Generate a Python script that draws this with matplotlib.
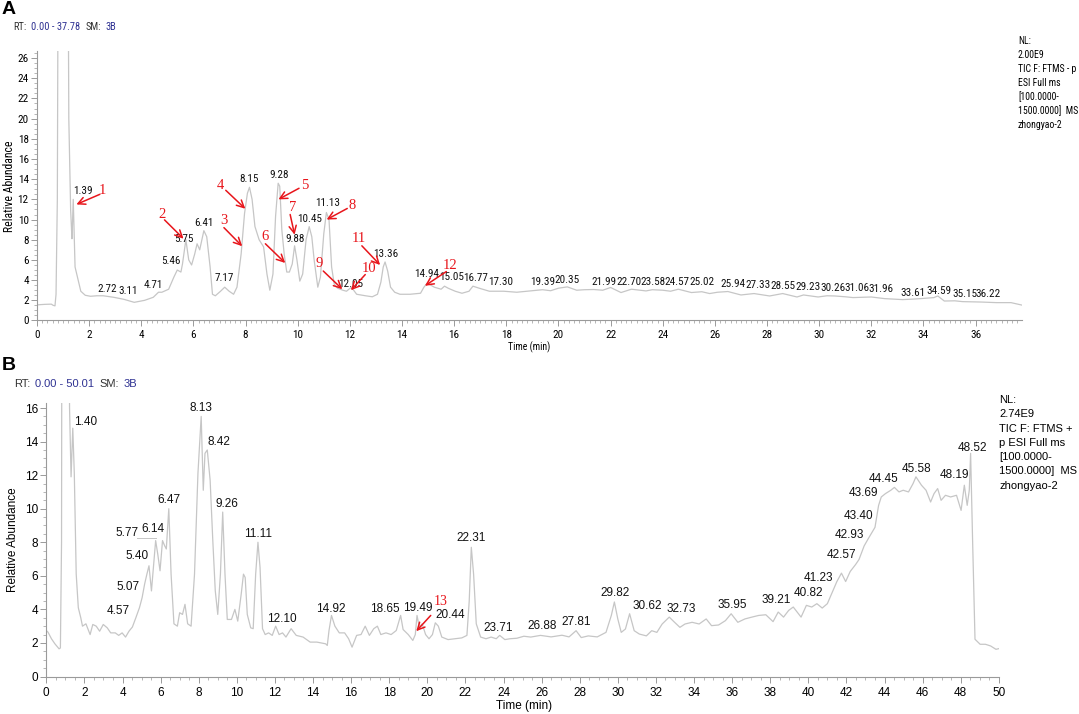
import matplotlib
matplotlib.use("Agg")
import matplotlib.pyplot as plt
from matplotlib import font_manager
from matplotlib.font_manager import FontProperties
from matplotlib.ticker import MultipleLocator

# ---- data ----
trace_a = [(0.0, 1.55), (0.3, 1.6), (0.55, 1.62), (0.62, 1.5), (0.69, 1.45), (0.73, 2.6),
           (0.78, 12.0), (0.84, 60), (0.95, 100), (1.1, 100), (1.17, 50), (1.22, 20),
           (1.29, 11.0), (1.34, 8.1), (1.36, 9.5), (1.39, 12.0), (1.42, 9.0), (1.46, 5.3),
           (1.55, 4.3), (1.68, 2.9), (1.85, 2.5), (2.05, 2.4), (2.3, 2.45), (2.54, 2.45),
           (2.94, 2.3), (3.33, 2.1), (3.73, 1.8), (4.13, 2.0), (4.46, 2.3), (4.66, 2.8),
           (4.79, 2.8), (5.05, 3.1), (5.25, 4.3), (5.38, 5.0), (5.52, 4.8), (5.58, 5.6),
           (5.71, 8.0), (5.82, 6.0), (5.93, 5.5), (6.05, 6.6), (6.14, 7.6), (6.24, 7.0),
           (6.4, 8.9), (6.51, 8.3), (6.64, 5.3), (6.73, 2.6), (6.84, 2.45), (7.04, 2.9),
           (7.2, 3.3), (7.37, 2.9), (7.54, 2.6), (7.67, 3.3), (7.83, 6.6), (7.96, 10.6),
           (8.07, 12.6), (8.15, 13.2), (8.25, 12.0), (8.36, 9.3), (8.52, 8.0), (8.69, 7.3),
           (8.82, 4.6), (8.93, 3.0), (9.05, 4.6), (9.15, 10.3), (9.25, 13.6), (9.31, 13.3),
           (9.39, 9.0), (9.48, 6.6), (9.58, 4.8), (9.68, 4.8), (9.79, 5.6), (9.88, 7.4),
           (9.97, 6.0), (10.08, 3.9), (10.19, 4.6), (10.32, 8.0), (10.44, 9.3), (10.54, 8.3),
           (10.63, 6.0), (10.77, 3.3), (10.87, 4.3), (11.0, 8.6), (11.1, 10.7), (11.2, 10.0),
           (11.3, 5.3), (11.4, 3.6), (11.53, 3.2), (11.73, 3.0), (11.87, 2.9), (12.06, 3.3),
           (12.26, 2.6), (12.6, 2.45), (12.86, 2.35), (13.06, 2.6), (13.19, 3.8), (13.28, 5.3),
           (13.35, 5.8), (13.45, 4.9), (13.56, 3.3), (13.72, 2.8), (13.92, 2.6), (14.31, 2.6),
           (14.71, 2.7), (14.84, 3.3), (14.97, 3.7), (15.24, 3.3), (15.5, 3.1), (15.63, 3.4),
           (15.77, 3.2), (16.04, 2.9), (16.3, 2.7), (16.57, 2.9), (16.72, 3.4), (16.96, 3.2),
           (17.35, 2.9), (17.9, 2.9), (18.4, 2.8), (18.8, 2.9), (19.2, 3.0), (19.39, 3.05),
           (19.7, 2.95), (20.0, 3.2), (20.34, 3.33), (20.7, 3.0), (21.0, 3.05), (21.35, 3.07),
           (21.7, 3.0), (22.0, 3.27), (22.4, 2.77), (22.8, 3.1), (23.36, 2.93), (23.6, 3.05),
           (24.0, 3.0), (24.3, 2.9), (24.6, 3.1), (25.1, 2.77), (25.5, 2.85), (25.8, 2.67),
           (26.1, 2.8), (26.5, 2.87), (27.0, 2.53), (27.5, 2.67), (28.1, 2.43), (28.6, 2.67),
           (29.15, 2.33), (29.4, 2.53), (29.96, 2.33), (30.3, 2.45), (30.6, 2.43), (31.0, 2.35),
           (31.3, 2.27), (32.0, 2.33), (32.5, 2.17), (33.2, 2.07), (33.6, 2.12), (33.9, 2.17),
           (34.4, 2.27), (34.55, 2.43), (34.8, 1.93), (35.2, 1.95), (35.5, 1.87), (36.2, 1.83),
           (36.8, 1.77), (37.36, 1.77), (37.77, 1.53)]

trace_b = [(0.0, 2.74), (0.09, 2.64), (0.27, 2.25), (0.45, 1.95), (0.67, 1.65), (0.74, 1.7),
           (0.8, 8.0), (0.86, 60), (0.95, 100), (1.1, 100), (1.16, 40), (1.22, 16),
           (1.3, 11.9), (1.39, 14.8), (1.47, 12.1), (1.57, 6.1), (1.68, 4.1), (1.81, 3.5),
           (1.9, 3.0), (2.08, 3.14), (2.3, 2.5), (2.44, 3.1), (2.62, 3.0), (2.8, 2.7),
           (2.99, 3.1), (3.2, 2.9), (3.38, 2.6), (3.62, 2.6), (3.8, 2.45), (3.98, 2.6),
           (4.16, 2.35), (4.34, 2.7), (4.52, 2.95), (4.7, 3.5), (4.89, 4.1), (5.03, 4.7),
           (5.16, 5.5), (5.28, 6.1), (5.39, 6.6), (5.52, 5.1), (5.65, 6.9), (5.74, 8.1),
           (5.85, 7.3), (5.97, 6.3), (6.1, 8.1), (6.21, 7.8), (6.3, 7.6), (6.43, 10.0),
           (6.55, 6.1), (6.7, 3.14), (6.88, 3.0), (7.0, 3.8), (7.15, 3.7), (7.28, 4.3),
           (7.42, 3.14), (7.6, 3.0), (7.78, 6.1), (7.96, 12.1), (8.13, 15.5), (8.24, 11.1),
           (8.33, 13.3), (8.45, 13.5), (8.6, 11.7), (8.74, 8.1), (8.87, 5.1), (9.0, 3.7),
           (9.14, 6.1), (9.26, 9.8), (9.38, 6.1), (9.5, 3.4), (9.72, 3.4), (9.9, 4.0),
           (10.05, 3.3), (10.23, 4.9), (10.35, 6.1), (10.44, 5.9), (10.55, 3.7), (10.73, 2.9),
           (10.86, 2.85), (10.99, 6.1), (11.11, 8.0), (11.22, 6.5), (11.35, 2.85), (11.49, 2.5),
           (11.67, 2.6), (11.86, 2.45), (12.04, 3.0), (12.22, 2.5), (12.4, 2.6), (12.58, 2.35),
           (12.85, 2.85), (13.12, 2.45), (13.48, 2.35), (13.85, 2.05), (14.2, 2.05), (14.66, 1.95),
           (14.75, 1.85), (14.84, 2.74), (14.97, 3.64), (15.15, 3.0), (15.38, 2.6), (15.66, 2.6),
           (15.87, 2.25), (16.05, 1.75), (16.29, 2.45), (16.52, 2.5), (16.74, 3.0), (16.96, 2.45),
           (17.19, 2.85), (17.38, 3.0), (17.56, 2.5), (17.83, 2.6), (18.1, 2.5), (18.37, 2.74),
           (18.6, 3.64), (18.73, 2.8), (19.0, 2.5), (19.24, 2.15), (19.37, 2.5), (19.46, 3.64),
           (19.58, 2.95), (19.73, 3.14), (19.91, 2.5), (20.09, 2.25), (20.27, 2.5), (20.42, 3.2),
           (20.58, 3.0), (20.76, 2.35), (21.09, 2.2), (21.45, 2.25), (21.81, 2.3), (22.08, 2.45),
           (22.2, 4.5), (22.31, 7.7), (22.43, 6.1), (22.57, 3.14), (22.8, 2.35), (23.08, 2.25),
           (23.35, 2.35), (23.62, 2.25), (23.8, 2.45), (24.07, 2.2), (24.34, 2.25), (24.7, 2.28),
           (25.07, 2.4), (25.43, 2.35), (25.94, 2.45), (26.5, 2.36), (27.07, 2.46), (27.44, 2.36),
           (27.81, 2.73), (28.08, 2.32), (28.45, 2.42), (28.92, 2.36), (29.38, 2.63), (29.66, 3.64),
           (29.82, 4.44), (30.0, 3.43), (30.18, 2.63), (30.4, 2.83), (30.62, 3.74), (30.86, 2.73),
           (31.13, 2.53), (31.5, 2.42), (31.78, 2.73), (32.05, 2.63), (32.33, 3.13), (32.7, 3.54),
           (32.98, 3.23), (33.26, 2.93), (33.53, 3.13), (33.9, 3.23), (34.27, 3.13), (34.64, 3.43),
           (34.92, 3.03), (35.29, 3.07), (35.65, 3.33), (35.95, 3.74), (36.3, 3.23), (36.67, 3.43),
           (37.04, 3.54), (37.4, 3.64), (37.77, 3.68), (38.15, 3.27), (38.42, 3.84), (38.7, 3.54),
           (38.97, 3.94), (39.21, 4.14), (39.62, 3.54), (39.9, 4.24), (40.18, 4.14), (40.45, 4.34),
           (40.73, 4.08), (41.0, 4.34), (41.23, 4.95), (41.5, 5.66), (41.74, 6.16), (41.96, 5.66),
           (42.2, 6.26), (42.48, 6.67), (42.66, 6.97), (42.93, 7.78), (43.13, 8.18), (43.4, 8.69),
           (43.5, 8.89), (43.69, 10.2), (43.83, 10.7), (44.05, 10.9), (44.33, 11.1), (44.52, 11.27),
           (44.76, 11.0), (44.98, 11.1), (45.26, 11.0), (45.5, 11.5), (45.65, 11.9), (45.94, 11.4),
           (46.18, 11.1), (46.42, 10.4), (46.6, 10.9), (46.79, 11.2), (46.97, 10.5), (47.2, 10.8),
           (47.47, 10.7), (47.78, 10.8), (48.02, 9.9), (48.19, 11.4), (48.34, 10.2), (48.45, 11.1),
           (48.52, 13.3), (48.62, 8.3), (48.75, 2.22), (49.02, 1.92), (49.3, 1.92), (49.57, 1.82),
           (49.85, 1.62), (50.0, 1.66)]

# peak labels: (text, x, y) where the label sits
labels_a = [("1.39", 1.75, 12.8), ("2.72", 2.71, 3.1), ("3.11", 3.5, 2.95), ("4.71", 4.48, 3.5),
            ("5.46", 5.12, 5.85), ("5.75", 5.62, 8.05), ("6.41", 6.4, 9.7), ("7.17", 7.17, 4.2),
            ("8.15", 8.15, 14.0), ("9.28", 9.29, 14.4), ("9.88", 9.88, 8.1), ("10.45", 10.45, 10.1),
            ("11.13", 11.14, 11.6), ("12.05", 12.04, 3.6), ("13.36", 13.36, 6.6), ("14.94", 14.93, 4.6),
            ("15.05", 15.9, 4.35), ("16.77", 16.83, 4.2), ("17.30", 17.78, 3.85), ("19.39", 19.39, 3.83),
            ("20.35", 20.34, 4.0), ("21.99", 21.75, 3.83), ("22.70", 22.69, 3.83), ("23.58", 23.63, 3.83),
            ("24.57", 24.55, 3.83), ("25.02", 25.52, 3.77), ("25.94", 26.7, 3.6), ("27.33", 27.67, 3.53),
            ("28.55", 28.61, 3.43), ("29.23", 29.56, 3.33), ("30.26", 30.52, 3.2), ("31.06", 31.44, 3.2),
            ("31.96", 32.38, 3.1), ("33.61", 33.59, 2.77), ("34.59", 34.6, 2.93), ("35.15", 35.59, 2.67),
            ("36.22", 36.49, 2.6)]

labels_b = [("1.40", 2.05, 15.17), ("4.57", 3.8, 3.9), ("5.07", 4.29, 5.33), ("5.40", 4.76, 7.16),
            ("5.77", 4.22, 8.55), ("6.14", 5.61, 8.8), ("6.47", 6.46, 10.5), ("8.13", 8.14, 16.0),
            ("8.42", 9.05, 14.0), ("9.26", 9.5, 10.3), ("11.11", 11.13, 8.47), ("12.10", 12.36, 3.44),
            ("14.92", 14.93, 4.04), ("18.65", 17.79, 4.04), ("19.49", 19.49, 4.1), ("20.44", 21.23, 3.64),
            ("22.31", 22.32, 8.27), ("23.71", 23.71, 2.9), ("26.88", 26.05, 2.99), ("27.81", 27.81, 3.23),
            ("29.82", 29.84, 4.95), ("30.62", 31.56, 4.2), ("32.73", 33.31, 4.04), ("35.95", 35.99, 4.24),
            ("39.21", 38.3, 4.55), ("40.82", 40.03, 5.0), ("41.23", 40.55, 5.86), ("42.57", 41.75, 7.23),
            ("42.93", 42.14, 8.44), ("43.40", 42.62, 9.54), ("43.69", 42.89, 10.95), ("44.45", 43.93, 11.78),
            ("45.58", 45.68, 12.38), ("48.19", 47.66, 11.98), ("48.52", 48.63, 13.64)]

# red compound markers: (number, text pos, arrow tail, arrow tip)
marks_a = [("1", (2.5, 12.9), (2.41, 12.5), (1.51, 11.5)),
           ("2", (4.79, 10.5), (4.89, 9.97), (5.62, 8.1)),
           ("3", (7.17, 9.9), (7.17, 9.2), (7.87, 7.36)),
           ("4", (7.04, 13.4), (7.24, 12.9), (7.99, 11.07)),
           ("5", (10.28, 13.4), (10.05, 13.1), (9.26, 12.0)),
           ("6", (8.73, 8.3), (8.76, 7.6), (9.52, 5.7)),
           ("7", (9.79, 11.2), (9.71, 10.5), (9.88, 8.5)),
           ("8", (12.09, 11.4), (11.9, 11.1), (11.11, 10.0)),
           ("9", (10.81, 5.6), (10.98, 4.9), (11.71, 3.1)),
           ("10", (12.72, 5.15), (12.59, 4.55), (12.04, 3.0)),
           ("11", (12.35, 8.1), (12.46, 7.4), (13.16, 5.5)),
           ("12", (15.83, 5.45), (15.7, 4.85), (14.88, 3.44))]
marks_b = [("13", (20.69, 4.47), (20.18, 3.64), (19.42, 2.7))]

info_a = ["NL:", "2.00E9", "TIC F: FTMS - p", "ESI Full ms", "[100.0000-", "1500.0000]  MS", "zhongyao-2"]
info_b = ["NL:", "2.74E9", "TIC F: FTMS +", "p ESI Full ms", "[100.0000-", "1500.0000]  MS", "zhongyao-2"]

# ---- fonts: panel A uses a narrow face if one is installed ----
entries = font_manager.fontManager.ttflist
narrow_file = None
for pref in ["Liberation Sans Narrow", "Roboto Condensed", "Open Sans Condensed", "DejaVu Sans"]:
    for f in entries:
        is_cond = ("Narrow" in f.name or "Condensed" in f.name or f.stretch in ("condensed", "semi-condensed"))
        if f.name == pref and is_cond and f.style == "normal" and f.weight in (400, "normal", "regular"):
            narrow_file = f.fname
            break
    if narrow_file:
        break


def nfont(size):
    if narrow_file:
        return FontProperties(fname=narrow_file, size=size)
    return FontProperties(family="Liberation Sans", size=size * 0.88)


def sfont(size):
    return FontProperties(family="Liberation Sans", size=size)


W, H = 1079, 714
fig = plt.figure(figsize=(W / 100, H / 100), dpi=100)


def px(x, y):
    return x / W, 1 - y / H


def make_axes(left, right, top, bottom):
    return fig.add_axes([left / W, 1 - bottom / H, (right - left) / W, (bottom - top) / H])


line_col = "#c6c6c6"
axis_col = "#9a9a9a"
blue = "#2e3192"
red = "#e8151b"


def style(ax, fp, xmax, ymax, xminor, yminor, pad_x):
    ax.set_xlim(0, xmax)
    ax.set_ylim(0, ymax)
    for s in ["top", "right"]:
        ax.spines[s].set_visible(False)
    for s in ["left", "bottom"]:
        ax.spines[s].set_color(axis_col)
        ax.spines[s].set_linewidth(0.8)
    ax.xaxis.set_major_locator(MultipleLocator(2))
    ax.xaxis.set_minor_locator(MultipleLocator(xminor))
    ax.yaxis.set_major_locator(MultipleLocator(2))
    ax.yaxis.set_minor_locator(MultipleLocator(yminor))
    ax.tick_params(which="major", length=4, color=axis_col, width=0.7)
    ax.tick_params(which="minor", length=2, color=axis_col, width=0.5)
    ax.tick_params(axis="x", pad=pad_x)
    ax.tick_params(axis="y", pad=2)
    for lab in ax.get_xticklabels() + ax.get_yticklabels():
        lab.set_fontproperties(fp)


def header(y, parts, fp, x0, gap):
    # draw coloured pieces one after another
    renderer = fig.canvas.get_renderer()
    x = x0
    for txt, col in parts:
        t = fig.text(*px(x, y), txt, ha="left", va="center", fontproperties=fp, color=col)
        x += t.get_window_extent(renderer).width + gap


def arrow(ax, tail, tip):
    ax.annotate("", xy=tip, xytext=tail,
                arrowprops=dict(arrowstyle="->", color=red, lw=1.1, shrinkA=0, shrinkB=0,
                                mutation_scale=13))


# ---------- panel A ----------
axA = make_axes(37, 1022, 51, 320.5)
ta, ia = zip(*trace_a)
axA.plot(ta, ia, color=line_col, lw=0.9)
style(axA, nfont(8), 37.78, 26.7, 0.2, 0.5, 2.5)
for txt, x, y in labels_a:
    axA.text(x, y, txt, ha="center", va="center", fontproperties=nfont(8), color="#111111")
for num, tp, tail, tip in marks_a:
    arrow(axA, tail, tip)
    axA.text(tp[0], tp[1], num, ha="center", va="center", fontsize=10.5, family="Liberation Serif", color=red)
axA.set_ylabel("Relative Abundance", fontproperties=nfont(8.5), labelpad=1)
fig.text(*px(529, 347), "Time (min)", ha="center", va="center", fontproperties=nfont(7))

fig.text(*px(2, 10), "A", ha="left", va="center", fontsize=14, fontweight="bold", family="Liberation Sans")
header(27, [("RT:", "#333333"), ("0.00 - 37.78", blue), ("SM:", "#333333"), ("3B", blue)],
       nfont(7.5), 13, 5)
for i, line in enumerate(info_a):
    fig.text(*px(1018, 41 + 14 * i), line, ha="left", va="center", fontproperties=nfont(7))

# ---------- panel B ----------
axB = make_axes(46.3, 999, 403, 676.5)
tb, ib = zip(*trace_b)
axB.plot(tb, ib, color=line_col, lw=0.9)
style(axB, sfont(8.5), 50.01, 16.3, 0.5, 0.5, 3.5)
for txt, x, y in labels_b:
    axB.text(x, y, txt, ha="center", va="center", fontproperties=sfont(8.5), color="#111111")
axB.plot([4.75, 5.74], [8.27, 8.27], color=line_col, lw=0.7)
for num, tp, tail, tip in marks_b:
    arrow(axB, tail, tip)
    axB.text(tp[0], tp[1], num, ha="center", va="center", fontsize=10, family="Liberation Serif", color=red)
axB.set_ylabel("Relative Abundance", fontproperties=sfont(8.5), labelpad=4)
fig.text(*px(524, 706), "Time (min)", ha="center", va="center", fontproperties=sfont(8.5))

fig.text(*px(2, 366), "B", ha="left", va="center", fontsize=14, fontweight="bold", family="Liberation Sans")
header(384, [("RT:", "#333333"), ("0.00 - 50.01", blue), ("SM:", "#333333"), ("3B", blue)],
       sfont(8), 14, 5)
for i, line in enumerate(info_b):
    fig.text(*px(999, 400 + 14.3 * i), line, ha="left", va="center", fontproperties=sfont(8))

fig.savefig("out.png", dpi=100)
